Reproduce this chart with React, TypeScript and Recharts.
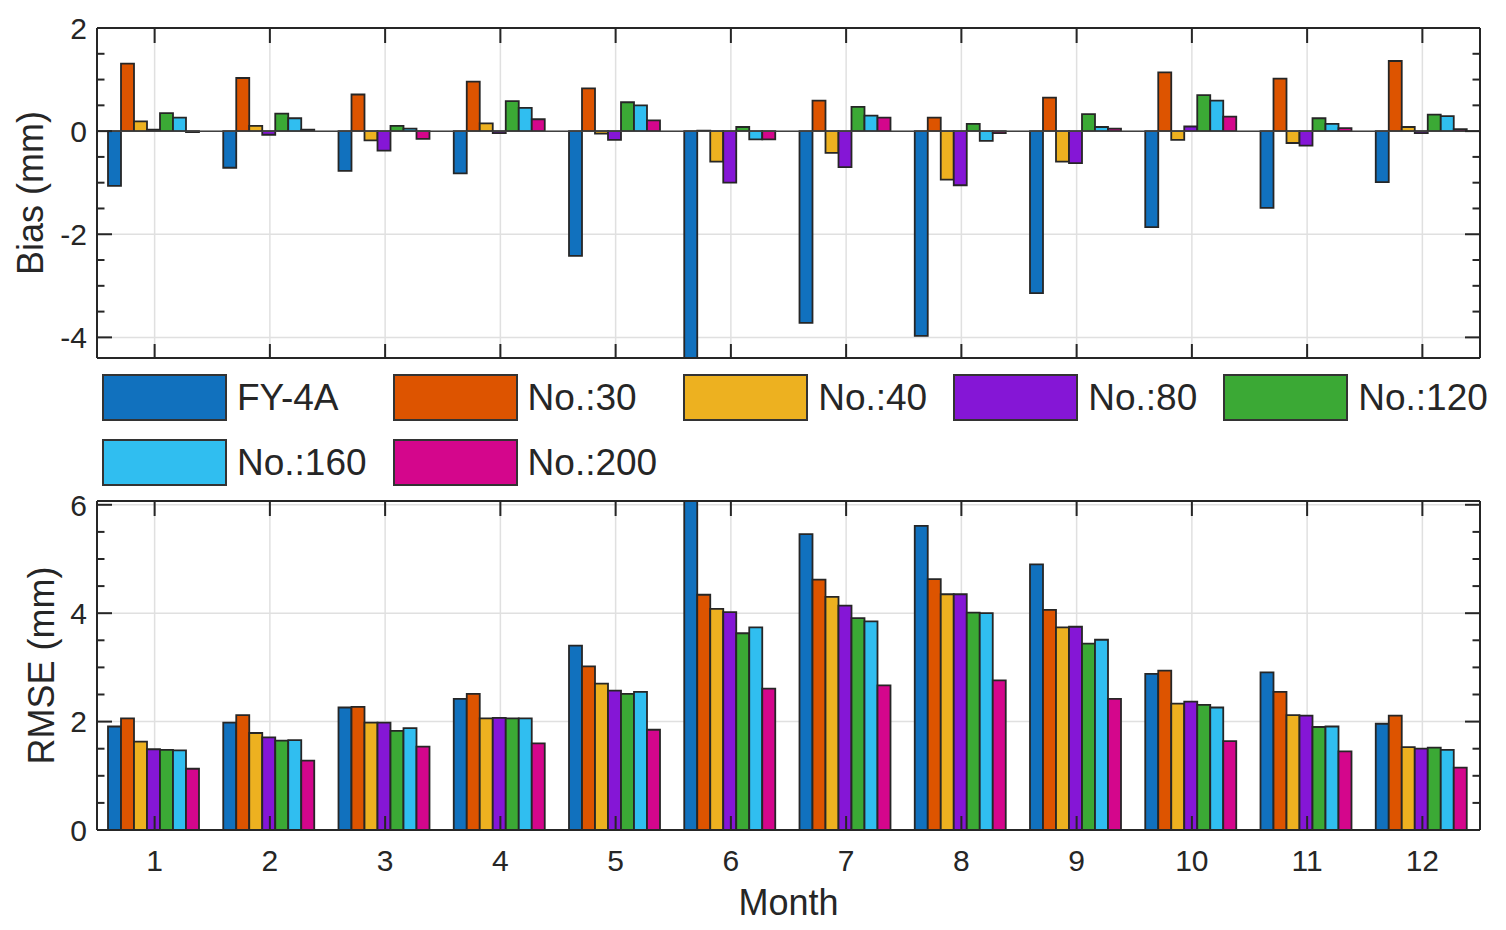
import React from 'react';
import { BarChart, Bar, XAxis, YAxis, CartesianGrid, ReferenceLine } from 'recharts';

const months = ['1', '2', '3', '4', '5', '6', '7', '8', '9', '10', '11', '12'];
const seriesNames = ['FY-4A', 'No.:30', 'No.:40', 'No.:80', 'No.:120', 'No.:160', 'No.:200'];
const seriesColors = ['#1171be', '#dd5400', '#edb120', '#8516d6', '#3ba935', '#30bef0', '#d4068c'];

// Bias (mm) per month
const biasFY4A = [-1.06, -0.71, -0.77, -0.82, -2.42, -4.7, -3.72, -3.97, -3.14, -1.86, -1.49, -0.99];
const bias30 = [1.31, 1.03, 0.71, 0.96, 0.83, 0.01, 0.59, 0.26, 0.65, 1.14, 1.02, 1.36];
const bias40 = [0.19, 0.1, -0.18, 0.15, -0.05, -0.59, -0.42, -0.94, -0.59, -0.17, -0.23, 0.08];
const bias80 = [0.03, -0.07, -0.38, -0.04, -0.17, -1.0, -0.7, -1.05, -0.62, 0.09, -0.28, -0.04];
const bias120 = [0.35, 0.34, 0.1, 0.58, 0.56, 0.08, 0.47, 0.14, 0.33, 0.7, 0.25, 0.32];
const bias160 = [0.26, 0.25, 0.05, 0.45, 0.5, -0.16, 0.3, -0.19, 0.08, 0.59, 0.14, 0.29];
const bias200 = [-0.02, 0.03, -0.15, 0.23, 0.21, -0.16, 0.26, -0.04, 0.05, 0.28, 0.06, 0.04];

// RMSE (mm) per month
const rmseFY4A = [1.91, 1.98, 2.26, 2.42, 3.4, 6.3, 5.46, 5.61, 4.9, 2.88, 2.91, 1.96];
const rmse30 = [2.06, 2.12, 2.27, 2.51, 3.02, 4.34, 4.62, 4.63, 4.06, 2.94, 2.55, 2.11];
const rmse40 = [1.63, 1.79, 1.98, 2.06, 2.7, 4.08, 4.3, 4.35, 3.74, 2.33, 2.12, 1.53];
const rmse80 = [1.49, 1.71, 1.98, 2.07, 2.57, 4.02, 4.14, 4.35, 3.75, 2.37, 2.11, 1.5];
const rmse120 = [1.48, 1.65, 1.83, 2.06, 2.51, 3.63, 3.91, 4.01, 3.44, 2.31, 1.9, 1.52];
const rmse160 = [1.47, 1.66, 1.88, 2.06, 2.55, 3.74, 3.85, 4.0, 3.51, 2.26, 1.91, 1.48];
const rmse200 = [1.13, 1.28, 1.54, 1.6, 1.85, 2.61, 2.67, 2.76, 2.42, 1.64, 1.45, 1.15];

const biasTicks = [-4, -3.5, -3, -2.5, -2, -1.5, -1, -0.5, 0, 0.5, 1, 1.5, 2];
const biasMajor = [-4, -2, 0, 2];
const rmseTicks = [0, 0.5, 1, 1.5, 2, 2.5, 3, 3.5, 4, 4.5, 5, 5.5, 6];
const rmseMajor = [0, 2, 4, 6];

const biasSeries = [biasFY4A, bias30, bias40, bias80, bias120, bias160, bias200];
const rmseSeries = [rmseFY4A, rmse30, rmse40, rmse80, rmse120, rmse160, rmse200];

// keys s0..s6 (names contain dots, which recharts would read as paths)
const toRows = (series: number[][]) =>
  months.map((m, i) => {
    const row: Record<string, string | number> = { month: m };
    series.forEach((vals, k) => {
      row[`s${k}`] = vals[i];
    });
    return row;
  });

const biasData = toRows(biasSeries);
const rmseData = toRows(rmseSeries);

const INK = '#262626';
const FONT = '"Liberation Sans", Arial, Helvetica, sans-serif';

const leftTick = (major: number[]) => (props: any) => {
  const { x, y, payload } = props;
  const isMajor = major.includes(payload.value);
  return (
    <g>
      <line x1={x} x2={x + (isMajor ? 15 : 7.5)} y1={y} y2={y} stroke={INK} strokeWidth={2} />
      {isMajor && (
        <text x={x - 10} y={y} dy="0.36em" textAnchor="end" fontSize={30} fill={INK}>
          {payload.value}
        </text>
      )}
    </g>
  );
};

const rightTick = (major: number[]) => (props: any) => {
  const { x, y, payload } = props;
  const isMajor = major.includes(payload.value);
  return <line x1={x} x2={x - (isMajor ? 15 : 7.5)} y1={y} y2={y} stroke={INK} strokeWidth={2} />;
};

const bottomTick = (showLabel: boolean) => (props: any) => {
  const { x, y, payload } = props;
  return (
    <g>
      <line x1={x} x2={x} y1={y} y2={y - 14} stroke={INK} strokeWidth={2} />
      {showLabel && (
        <text x={x} y={y + 41} textAnchor="middle" fontSize={30} fill={INK}>
          {payload.value}
        </text>
      )}
    </g>
  );
};

const topTick = (props: any) => {
  const { x, y } = props;
  return <line x1={x} x2={x} y1={y} y2={y + 15} stroke={INK} strokeWidth={2} />;
};

const yLabel = (text: string, cx: number) => (props: any) => {
  const vb = props.viewBox;
  const cy = vb.y + vb.height / 2;
  return (
    <text
      x={cx}
      y={cy}
      transform={`rotate(-90 ${cx} ${cy})`}
      textAnchor="middle"
      dy="0.36em"
      fontSize={36}
      fill={INK}
    >
      {text}
    </text>
  );
};

const xLabel = (props: any) => {
  const vb = props.viewBox;
  return (
    <text x={vb.x + vb.width / 2} y={vb.y + 85} textAnchor="middle" fontSize={36} fill={INK}>
      Month
    </text>
  );
};

const axisLine = { stroke: INK, strokeWidth: 2 };

const renderBars = () =>
  seriesNames.map((n, k) => (
    <Bar
      key={n}
      dataKey={`s${k}`}
      name={n}
      fill={seriesColors[k]}
      stroke={INK}
      strokeWidth={1.8}
      isAnimationActive={false}
    />
  ));

const Legend: React.FC = () => (
  <div
    style={{
      position: 'absolute',
      left: 102,
      top: 374,
      display: 'grid',
      gridTemplateColumns: 'repeat(5, auto)',
      rowGap: 18,
      fontFamily: FONT,
      fontSize: 37,
      color: INK,
    }}
  >
    {seriesNames.map((n, k) => (
      <div key={n} style={{ display: 'flex', alignItems: 'center', paddingRight: 26, height: 47 }}>
        <div
          style={{
            width: 125,
            height: 47,
            boxSizing: 'border-box',
            border: '2px solid #333',
            background: seriesColors[k],
            marginRight: 10,
          }}
        />
        <span style={{ whiteSpace: 'nowrap', lineHeight: '47px' }}>{n}</span>
      </div>
    ))}
  </div>
);

const App: React.FC = () => {
  return (
    <div style={{ position: 'absolute', left: 0, top: 0, width: 1506, height: 930, background: '#fff', fontFamily: FONT }}>
      <div style={{ position: 'absolute', left: 0, top: 0 }}>
        <BarChart
          width={1506}
          height={359}
          data={biasData}
          margin={{ top: 27, right: 25, left: 0, bottom: 0 }}
          barCategoryGap={11}
          barGap={0}
          style={{ fontFamily: FONT }}
        >
          <CartesianGrid stroke="#e0e0e0" strokeWidth={1.5} horizontalValues={biasMajor} />
          <XAxis dataKey="month" height={1} axisLine={axisLine} tickLine={false} tickSize={0} tickMargin={0} tick={bottomTick(false)} interval={0} />
          <XAxis xAxisId="top" dataKey="month" orientation="top" height={1} axisLine={axisLine} tickLine={false} tickSize={0} tickMargin={0} tick={topTick} interval={0} />
          <YAxis
            domain={[-4.4, 2]}
            allowDataOverflow
            ticks={biasTicks}
            interval={0}
            width={97}
            axisLine={axisLine}
            tickLine={false}
            tickSize={0}
            tickMargin={0}
            tick={leftTick(biasMajor)}
            label={yLabel('Bias (mm)', 30)}
          />
          <YAxis
            yAxisId="r"
            orientation="right"
            domain={[-4.4, 2]}
            allowDataOverflow
            ticks={biasTicks}
            interval={0}
            width={1}
            axisLine={axisLine}
            tickLine={false}
            tickSize={0}
            tickMargin={0}
            tick={rightTick(biasMajor)}
          />
          {renderBars()}
          <ReferenceLine y={0} stroke="#404040" strokeWidth={1.5} />
        </BarChart>
      </div>

      <Legend />

      <div style={{ position: 'absolute', left: 0, top: 480 }}>
        <BarChart
          width={1506}
          height={450}
          data={rmseData}
          margin={{ top: 20, right: 25, left: 0, bottom: 10 }}
          barCategoryGap={11}
          barGap={0}
          style={{ fontFamily: FONT }}
        >
          <CartesianGrid stroke="#e0e0e0" strokeWidth={1.5} horizontalValues={rmseMajor} />
          <XAxis
            dataKey="month"
            height={90}
            axisLine={axisLine}
            tickLine={false}
            tickSize={0}
            tickMargin={0}
            tick={bottomTick(true)}
            interval={0}
            label={xLabel}
          />
          <XAxis xAxisId="top" dataKey="month" orientation="top" height={1} axisLine={axisLine} tickLine={false} tickSize={0} tickMargin={0} tick={topTick} interval={0} />
          <YAxis
            domain={[0, 6.07]}
            allowDataOverflow
            ticks={rmseTicks}
            interval={0}
            width={97}
            axisLine={axisLine}
            tickLine={false}
            tickSize={0}
            tickMargin={0}
            tick={leftTick(rmseMajor)}
            label={yLabel('RMSE (mm)', 41)}
          />
          <YAxis
            yAxisId="r"
            orientation="right"
            domain={[0, 6.07]}
            allowDataOverflow
            ticks={rmseTicks}
            interval={0}
            width={1}
            axisLine={axisLine}
            tickLine={false}
            tickSize={0}
            tickMargin={0}
            tick={rightTick(rmseMajor)}
          />
          {renderBars()}
        </BarChart>
      </div>
    </div>
  );
};

export default App;
